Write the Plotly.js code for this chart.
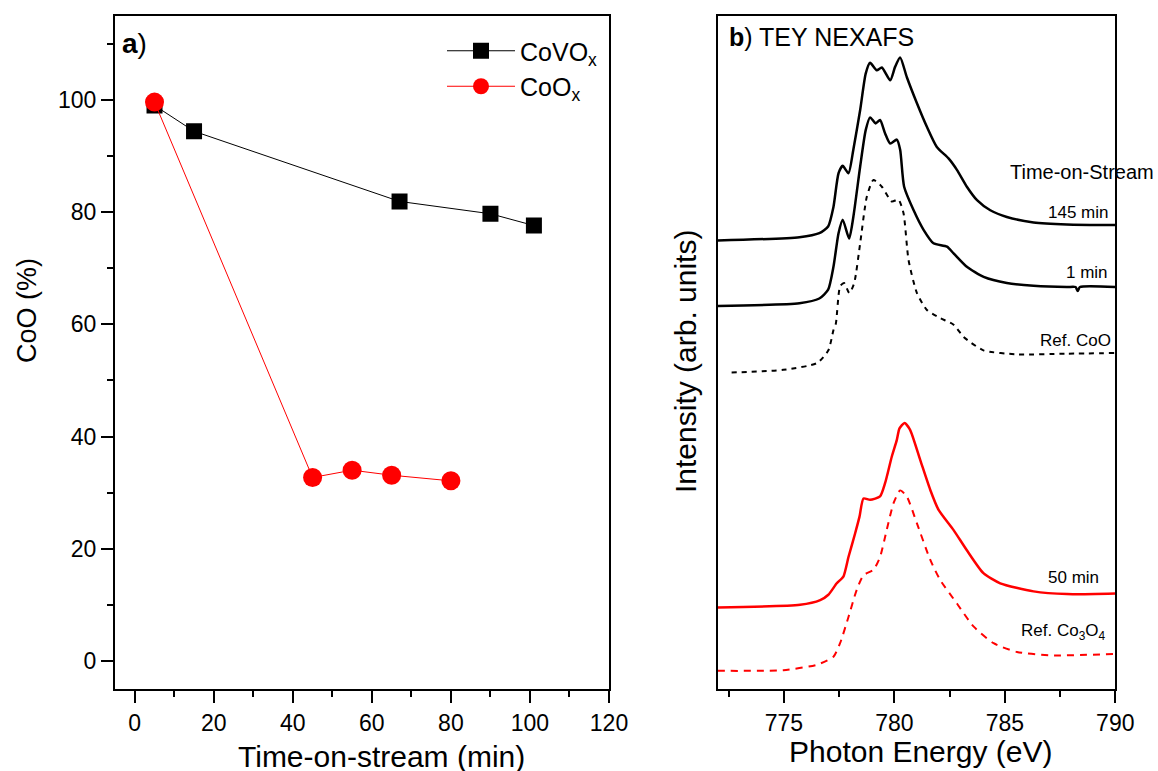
<!DOCTYPE html>
<html>
<head>
<meta charset="utf-8">
<script src="https://cdn.plot.ly/plotly-3.0.1.min.js"></script>
<style>
html,body{margin:0;padding:0;background:#fff;}
#chart{width:1158px;height:771px;}
</style>
</head>
<body>
<div id="chart"></div>
<script>
// ---- Panel a: CoO fraction vs time-on-stream ----
const timeCoVOx = [5, 15, 67, 90, 101];
const coVOx     = [99.0, 94.4, 81.9, 79.7, 77.6];
const timeCoOx  = [5, 45, 55, 65, 80];
const coOx      = [99.6, 32.7, 34.0, 33.1, 32.1];

// ---- Panel b: TEY NEXAFS spectra (arb. units, stacked) ----
const e145 = [772.0, 775.7, 776.6, 777.0, 777.24, 777.47, 777.66, 777.92, 778.14, 778.45, 778.70, 778.90, 779.20, 779.43, 779.81, 780.03, 780.26, 780.56, 781.02, 781.47, 781.92, 782.45, 782.83, 783.28, 783.74, 784.34, 785.09, 786.30, 787.81, 790.0];
const i145 = [66.6, 67.1, 67.7, 68.7, 71.6, 76.6, 77.7, 76.6, 80.1, 86.0, 91.4, 93.0, 91.9, 92.3, 90.4, 92.4, 93.8, 90.9, 87.0, 83.5, 80.5, 78.8, 77.1, 74.6, 72.6, 71.1, 70.1, 69.3, 69.0, 68.9];

const e1 = [772.0, 775.7, 776.6, 777.0, 777.24, 777.47, 777.66, 777.95, 778.14, 778.45, 778.70, 778.90, 779.15, 779.35, 779.58, 779.81, 780.11, 780.26, 780.44, 780.87, 781.32, 781.77, 782.38, 782.68, 783.28, 784.04, 785.09, 786.30, 787.81, 788.20, 788.30, 788.40, 790.0];
const i1 = [56.9, 57.3, 58.0, 59.3, 62.7, 67.7, 69.7, 66.9, 70.1, 77.6, 83.0, 84.9, 84.0, 84.5, 82.5, 81.0, 81.6, 80.1, 74.6, 71.1, 68.2, 66.2, 65.7, 64.7, 62.7, 61.2, 60.3, 59.9, 59.7, 59.7, 59.1, 59.7, 59.7];

const eRefCoO = [772.63, 774.97, 776.49, 777.01, 777.24, 777.35, 777.54, 777.72, 777.96, 778.18, 778.45, 778.75, 779.05, 779.43, 779.88, 780.18, 780.41, 780.64, 781.02, 781.47, 782.07, 782.68, 783.13, 784.03, 785.55, 787.81, 790.0];
const iRefCoO = [47.0, 47.4, 48.4, 50.3, 53.3, 54.3, 59.8, 60.3, 58.8, 60.3, 66.2, 73.1, 75.6, 74.6, 72.4, 72.7, 70.7, 63.7, 58.8, 56.3, 55.1, 54.1, 52.3, 50.3, 49.7, 49.8, 49.9];

const e50 = [772.0, 775.73, 776.64, 777.01, 777.39, 777.69, 777.92, 778.22, 778.42, 778.60, 778.90, 779.35, 779.58, 779.88, 780.11, 780.23, 780.46, 780.71, 781.17, 781.62, 782.00, 782.68, 783.28, 784.03, 784.79, 786.30, 787.81, 790.0];
const i50 = [12.1, 12.5, 13.2, 14.0, 15.7, 16.7, 19.6, 23.1, 25.6, 28.3, 28.1, 28.6, 30.6, 34.5, 37.0, 38.7, 39.5, 38.5, 34.0, 29.6, 26.6, 23.6, 20.6, 17.2, 15.7, 14.5, 14.1, 14.2];

const eRefCo3O4 = [772.0, 774.97, 776.49, 777.24, 777.54, 777.92, 778.29, 778.60, 779.05, 779.35, 779.65, 779.96, 780.26, 780.56, 781.02, 781.62, 782.07, 782.83, 783.58, 784.49, 785.55, 787.06, 790.0];
const iRefCo3O4 = [2.7, 2.8, 3.6, 4.8, 6.8, 10.7, 14.7, 16.9, 17.7, 19.6, 23.6, 27.6, 29.5, 28.6, 24.6, 19.2, 16.2, 12.7, 9.3, 6.8, 5.5, 5.0, 5.2];

const FONT = 'Arial, "Liberation Sans", sans-serif';

const traces = [
  {x: timeCoVOx, y: coVOx, name: 'CoVO<sub>x</sub>', type: 'scatter', mode: 'lines+markers',
   line: {color: '#000000', width: 1}, marker: {symbol: 'square', size: 16, color: '#000000'},
   xaxis: 'x', yaxis: 'y'},
  {x: timeCoOx, y: coOx, name: 'CoO<sub>x</sub>', type: 'scatter', mode: 'lines+markers',
   line: {color: '#ff0000', width: 1}, marker: {symbol: 'circle', size: 19, color: '#ff0000'},
   xaxis: 'x', yaxis: 'y'},
  {x: e145, y: i145, mode: 'lines', line: {color: '#000', width: 2.5, shape: 'spline', smoothing: 0.6}, showlegend: false, xaxis: 'x2', yaxis: 'y2'},
  {x: e1, y: i1, mode: 'lines', line: {color: '#000', width: 2.5, shape: 'spline', smoothing: 0.6}, showlegend: false, xaxis: 'x2', yaxis: 'y2'},
  {x: eRefCoO, y: iRefCoO, mode: 'lines', line: {color: '#000', width: 2, dash: '5px,5px', shape: 'spline', smoothing: 0.6}, showlegend: false, xaxis: 'x2', yaxis: 'y2'},
  {x: e50, y: i50, mode: 'lines', line: {color: '#ff0000', width: 2.5, shape: 'spline', smoothing: 0.6}, showlegend: false, xaxis: 'x2', yaxis: 'y2'},
  {x: eRefCo3O4, y: iRefCo3O4, mode: 'lines', line: {color: '#ff0000', width: 2, dash: '7px,6px', shape: 'spline', smoothing: 0.6}, showlegend: false, xaxis: 'x2', yaxis: 'y2'}
];

const W = 1158, H = 771;
const px = v => v / W;
const py = v => 1 - v / H;

const axisCommon = {
  showline: true, linecolor: '#000', linewidth: 2, mirror: true,
  ticks: 'outside', ticklen: 12, tickwidth: 2, tickcolor: '#000',
  showgrid: false, zeroline: false,
  tickfont: {family: FONT, size: 23, color: '#000'}
};

const layout = {
  width: W, height: H,
  margin: {l: 0, r: 0, t: 0, b: 0},
  paper_bgcolor: '#fff', plot_bgcolor: '#fff',
  showlegend: true,
  legend: {x: px(442), y: py(28), xanchor: 'left', yanchor: 'top', itemwidth: 68,
           font: {family: FONT, size: 25, color: '#000'}, bgcolor: 'rgba(0,0,0,0)', borderwidth: 0},
  xaxis: Object.assign({}, axisCommon, {domain: [px(115), px(609)], range: [-5, 120], tick0: 0, dtick: 20,
          minor: {dtick: 10, ticks: 'outside', ticklen: 6, tickwidth: 2, tickcolor: '#000'}, anchor: 'y'}),
  yaxis: Object.assign({}, axisCommon, {domain: [py(689), py(15.7)], range: [-5, 115], tick0: 0, dtick: 20,
          minor: {dtick: 10, ticks: 'outside', ticklen: 6, tickwidth: 2, tickcolor: '#000'}, anchor: 'x'}),
  xaxis2: Object.assign({}, axisCommon, {domain: [px(717.7), px(1115.3)], range: [772, 790], tick0: 775, dtick: 5,
          minor: {dtick: 2.5, ticks: 'outside', ticklen: 6, tickwidth: 2, tickcolor: '#000'}, anchor: 'y2'}),
  yaxis2: Object.assign({}, axisCommon, {domain: [py(689), py(15.7)], range: [0, 100], ticks: '', showticklabels: false, anchor: 'x2'}),
  annotations: [
    {text: '<b>a</b>)', x: px(120), y: py(43), xref: 'paper', yref: 'paper', xanchor: 'left', yanchor: 'middle', showarrow: false, font: {family: FONT, size: 28, color: '#000'}},
    {text: '<b>b</b>) TEY NEXAFS', x: px(727), y: py(37), xref: 'paper', yref: 'paper', xanchor: 'left', yanchor: 'middle', showarrow: false, font: {family: FONT, size: 25, color: '#000'}},
    {text: 'CoO (%)', x: px(27), y: py(311), xref: 'paper', yref: 'paper', xanchor: 'center', yanchor: 'middle', textangle: -90, showarrow: false, font: {family: FONT, size: 27, color: '#000'}},
    {text: 'Time-on-stream (min)', x: px(381), y: py(756), xref: 'paper', yref: 'paper', xanchor: 'center', yanchor: 'middle', showarrow: false, font: {family: FONT, size: 30, color: '#000'}},
    {text: 'Intensity (arb. units)', x: px(685), y: py(362), xref: 'paper', yref: 'paper', xanchor: 'center', yanchor: 'middle', textangle: -90, showarrow: false, font: {family: FONT, size: 30, color: '#000'}},
    {text: 'Photon Energy (eV)', x: px(920), y: py(751), xref: 'paper', yref: 'paper', xanchor: 'center', yanchor: 'middle', showarrow: false, font: {family: FONT, size: 30, color: '#000'}},
    {text: 'Time-on-Stream', x: px(1156), y: py(172), xref: 'paper', yref: 'paper', xanchor: 'right', yanchor: 'middle', showarrow: false, font: {family: FONT, size: 20, color: '#000'}},
    {text: '145 min', x: px(1110), y: py(212), xref: 'paper', yref: 'paper', xanchor: 'right', yanchor: 'middle', showarrow: false, font: {family: FONT, size: 17, color: '#000'}},
    {text: '1 min', x: px(1110), y: py(272), xref: 'paper', yref: 'paper', xanchor: 'right', yanchor: 'middle', showarrow: false, font: {family: FONT, size: 17, color: '#000'}},
    {text: 'Ref. CoO', x: px(1113), y: py(340), xref: 'paper', yref: 'paper', xanchor: 'right', yanchor: 'middle', showarrow: false, font: {family: FONT, size: 17, color: '#000'}},
    {text: '50 min', x: px(1101), y: py(577), xref: 'paper', yref: 'paper', xanchor: 'right', yanchor: 'middle', showarrow: false, font: {family: FONT, size: 17, color: '#000'}},
    {text: 'Ref. Co<sub>3</sub>O<sub>4</sub>', x: px(1108), y: py(632), xref: 'paper', yref: 'paper', xanchor: 'right', yanchor: 'middle', showarrow: false, font: {family: FONT, size: 17, color: '#000'}}
  ]
};

Plotly.newPlot('chart', traces, layout, {displayModeBar: false, staticPlot: true});
</script>
</body>
</html>
